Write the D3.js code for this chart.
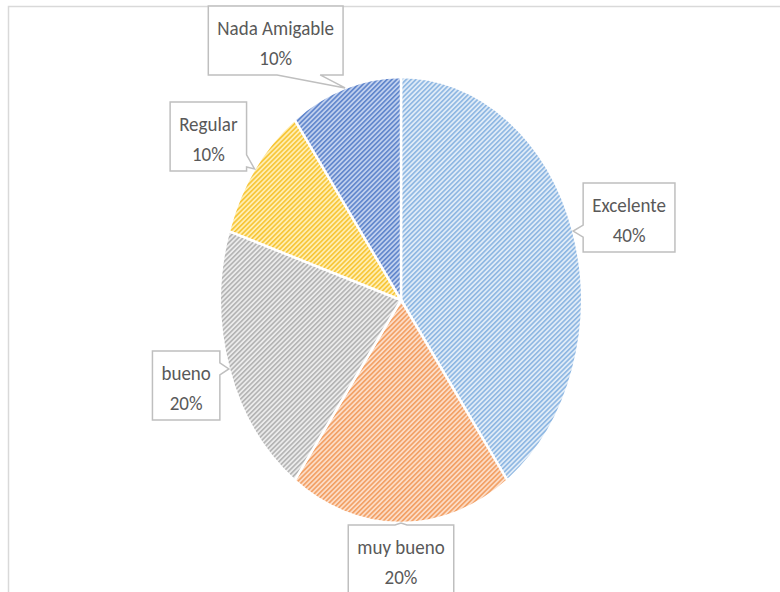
<!DOCTYPE html>
<html>
<head>
<meta charset="utf-8">
<script src="https://cdn.jsdelivr.net/npm/d3@7"></script>
<style>
  html, body { margin: 0; padding: 0; background: #fff; overflow: hidden; }
  text { font-family: Carlito, "Liberation Sans Narrow", Lato, sans-serif; fill: #595959; }
</style>
</head>
<body>
<script>
// data
var categories = ["Excelente", "muy bueno", "bueno", "Regular", "Nada Amigable"];
var values = [40, 20, 20, 10, 10];
var stripeColors = ["#8db6e2", "#f29f63", "#b3b3b3", "#f7c535", "#5f85cb"];
var gapColors = ["#dfebf7", "#fcdcc6", "#ebebeb", "#ffeeb2", "#c0d0ee"];

// where each box sits from its pointer tip (layout only)
var boxSide = ["right", "below", "left", "leftUp", "leftTop"];

var width = 780, height = 592;
var cx = 401, cy = 300, rx = 181, ry = 223;
var sx = rx / ry;
var fontSize = 19, stretch = 1.04, pad = 9, boxH = 69;

var svg = d3.select("body").append("svg")
  .attr("width", width)
  .attr("height", height);

// chart frame
svg.append("rect")
  .attr("x", 8.5).attr("y", 6.5)
  .attr("width", 820).attr("height", 640)
  .attr("fill", "none")
  .attr("stroke", "#d9d9d9")
  .attr("stroke-width", 1.5);

var defs = svg.append("defs");
categories.forEach(function(c, i) {
  var p = defs.append("pattern")
    .attr("id", "pat" + i)
    .attr("patternUnits", "userSpaceOnUse")
    .attr("width", 3.4).attr("height", 3.4)
    .attr("patternTransform", "scale(" + (1 / sx) + ",1) rotate(45)");
  p.append("rect").attr("width", 3.4).attr("height", 3.4).attr("fill", gapColors[i]);
  p.append("rect").attr("width", 1.6).attr("height", 3.4).attr("fill", stripeColors[i]);
});

var pie = d3.pie().sort(null).value(function(d) { return d; });
var arcs = pie(values);
var arc = d3.arc().innerRadius(0).outerRadius(ry);

var pieG = svg.append("g")
  .attr("transform", "translate(" + cx + " " + cy + ") scale(" + sx + " 1)");

pieG.selectAll("path")
  .data(arcs)
  .enter().append("path")
  .attr("d", arc)
  .attr("fill", function(d, i) { return "url(#pat" + i + ")"; })
  .attr("stroke", "#fff")
  .attr("stroke-width", 2.5)
  .attr("vector-effect", "non-scaling-stroke");

// callout labels
var total = d3.sum(values);
var labelsG = svg.append("g");

function tipPoint(d) {
  var a = (d.startAngle + d.endAngle) / 2;
  return [cx + rx * Math.sin(a), cy - ry * Math.cos(a)];
}

arcs.forEach(function(d, i) {
  var g = labelsG.append("g");
  var t1 = g.append("text")
    .attr("text-anchor", "middle")
    .attr("font-size", fontSize)
    .text(categories[i]);
  var t2 = g.append("text")
    .attr("text-anchor", "middle")
    .attr("font-size", fontSize)
    .text(Math.round(values[i] / total * 100) + "%");
  var tw = Math.max(t1.node().getComputedTextLength(), t2.node().getComputedTextLength());
  var w = tw + pad * 2;
  var tip = tipPoint(d);
  var x0, y0;
  var side = boxSide[i];
  if (side == "right") { x0 = tip[0] + 10; y0 = tip[1] - 48; }
  else if (side == "below") { x0 = tip[0] - w / 2; y0 = tip[1] + 2; }
  else if (side == "left") { x0 = tip[0] - 9 - w; y0 = tip[1] - 18; }
  else if (side == "leftUp") { x0 = tip[0] - 8 - w; y0 = tip[1] - 67; }
  else { x0 = tip[0] - 2 - w; y0 = tip[1] - 82; }
  var x1 = x0 + w, y1 = y0 + boxH;

  var path = d3.path();
  var hw = 6;
  path.moveTo(x0, y0);
  if (tip[1] < y0) {
    var m = Math.max(x0 + hw + 4, Math.min(x1 - hw - 4, tip[0]));
    path.lineTo(m - hw, y0); path.lineTo(tip[0], tip[1]); path.lineTo(m + hw, y0);
  }
  path.lineTo(x1, y0);
  if (tip[0] > x1 && tip[1] <= y1) {
    var m2 = Math.max(y0 + hw + 4, Math.min(y1 - hw - 4, tip[1]));
    path.lineTo(x1, m2 - hw); path.lineTo(tip[0], tip[1]); path.lineTo(x1, m2 + hw);
  }
  path.lineTo(x1, y1);
  if (tip[1] > y1) {
    path.lineTo(x0 + w * 0.83, y1); path.lineTo(tip[0], tip[1]); path.lineTo(x0 + w * 0.51, y1);
  }
  path.lineTo(x0, y1);
  if (tip[0] < x0) {
    var m4 = Math.max(y0 + hw + 4, Math.min(y1 - hw - 4, tip[1]));
    path.lineTo(x0, m4 + hw); path.lineTo(tip[0], tip[1]); path.lineTo(x0, m4 - hw);
  }
  path.closePath();

  g.insert("path", "text")
    .attr("d", path.toString())
    .attr("fill", "#fff")
    .attr("stroke", "#bfbfbf")
    .attr("stroke-width", 1.5);

  var mx = (x0 + x1) / 2;
  t1.attr("transform", "translate(" + mx + " " + (y0 + 29) + ") scale(1 " + stretch + ")");
  t2.attr("transform", "translate(" + mx + " " + (y0 + 59) + ") scale(1 " + stretch + ")");
});
</script>
</body>
</html>
